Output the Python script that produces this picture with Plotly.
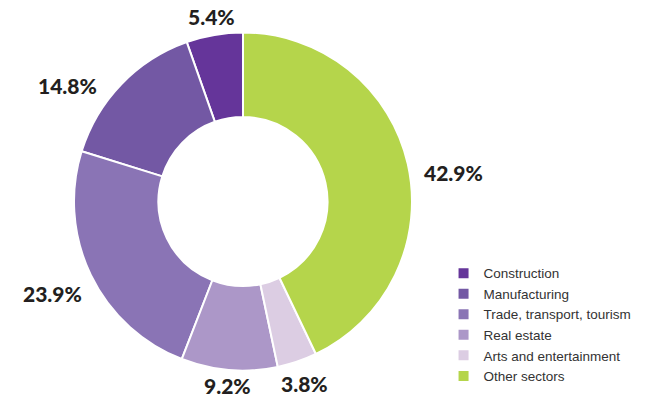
import math
import plotly.graph_objects as go

# Sector shares of the total (percent), in legend order
sectors = ["Construction", "Manufacturing", "Trade, transport, tourism",
           "Real estate", "Arts and entertainment", "Other sectors"]
shares = [5.4, 14.8, 23.9, 9.2, 3.8, 42.9]
colors = ["#65359a", "#7358a4", "#8a74b5", "#ac97c8", "#dccde3", "#b5d54b"]

# Small angular offsets (degrees) for the value labels of the wide side slices
label_nudge = [0, -10.5, 0, 0, 0, 5]

W, H = 669, 408
CX, CY, R = 243, 201.5, 169        # pie centre and outer radius, px
total = sum(shares)

fig = go.Figure(go.Pie(
    labels=sectors,
    values=shares,
    sort=False,
    direction="counterclockwise",
    rotation=-360 * shares[0] / total,   # first slice starts at 12 o'clock
    hole=0.5,
    marker=dict(colors=colors, line=dict(color="white", width=2)),
    textinfo="none",
    hoverinfo="label+percent",
    domain=dict(x=[(CX - R) / W, (CX + R) / W],
                y=[(H - CY - R) / H, (H - CY + R) / H]),
))

# Percentage labels placed just outside each slice, on its mid angle
acc = 0.0
annotations = []
for v, nudge in zip(shares, label_nudge):
    mid = -360 * (acc + v / 2) / total + nudge    # counterclockwise from top
    acc += v
    a = math.radians(mid)
    ux, uy = math.sin(a), -math.cos(a)            # screen direction (y down)
    text = f"{v:.1f}%"
    half_w = 6.2 * len(text)
    r_lab = R + 3 + abs(ux) * (half_w + 8) + abs(uy) * 10
    annotations.append(dict(
        x=CX / W, y=(H - CY) / H, xref="paper", yref="paper",
        xshift=ux * r_lab, yshift=-uy * r_lab,
        text=text, showarrow=False,
        xanchor="center", yanchor="middle",
        font=dict(family="Lato", size=21, color="#231f20", weight=900),
    ))

fig.update_layout(
    width=W, height=H,
    margin=dict(l=0, r=0, t=0, b=0),
    paper_bgcolor="white",
    plot_bgcolor="white",
    showlegend=True,
    annotations=annotations,
    legend=dict(
        x=0.663, xanchor="left",
        y=0.368, yanchor="top",
        font=dict(family="Liberation Sans", size=13.5, color="#333333"),
        itemwidth=30,
        tracegroupgap=0,
    ),
)

fig.write_html("out.html")
